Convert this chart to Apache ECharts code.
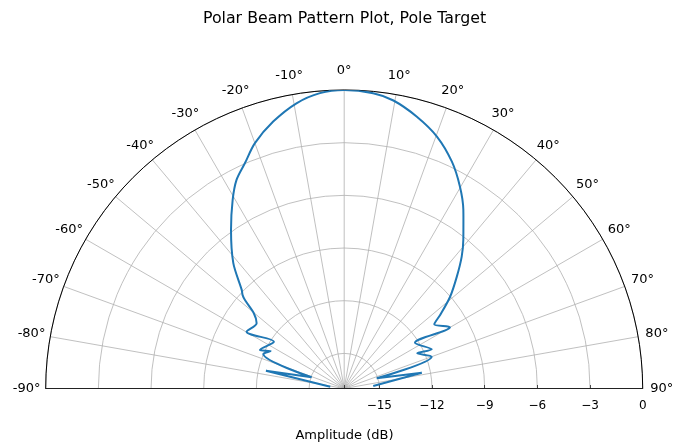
<!DOCTYPE html>
<html>
<head>
<meta charset="utf-8">
<script src="https://cdn.jsdelivr.net/npm/echarts@6/dist/echarts.min.js"></script>
<style>
html,body{margin:0;padding:0;background:#fff;}
#chart{width:689px;height:446px;}
</style>
</head>
<body>
<div id="chart"></div>
<script>
// Traced beam pattern, in drawing order (angle in degrees, amplitude in dB)
var thetaDeg = [
  -82.8, -77.2, -71.0, -66.9, -63.0, -65.4, -56.3, -59.8, -53.3, -50.2,
  -48.3, -47.4, -46.1, -41.5, -35.5, -30.6, -27.3, -23.8, -20.0, -14.9,
  -9.5, -4.7, 0.0, 5.6, 9.7, 14.9, 20.2, 25.4, 29.8, 33.7,
  35.3, 38.7, 41.7, 45.2, 49.1, 52.5, 54.5, 59.9, 57.1, 65.9,
  64.3, 70.0, 72.6, 78.5, 85.1
];
var amplitudeDb = [
  -16.2, -12.43, -15.04, -11.99, -12.3, -11.72, -12.19, -10.57, -10.78, -10.3,
  -9.43, -9.14, -8.9, -7.47, -5.9, -4.52, -3.63, -2.98, -2.13, -1.27,
  -0.53, -0.12, 0.0, -0.1, -0.36, -0.97, -1.71, -2.7, -3.74, -4.77,
  -5.25, -6.15, -6.94, -7.96, -9.02, -10.1, -10.7, -10.04, -12.2, -11.54,
  -12.38, -11.7, -15.06, -12.49, -15.34
];
var angleTickValues = [-90, -80, -70, -60, -50, -40, -30, -20, -10, 0, 10, 20, 30, 40, 50, 60, 70, 80, 90];
var radiusRange = [-17, 0, 3];       // min, max, step

var titleText = 'Polar Beam Pattern Plot, Pole Target';
var radiusName = 'Amplitude (dB)';

var data = thetaDeg.map(function (t, i) { return [amplitudeDb[i], t]; });

var chart = echarts.init(document.getElementById('chart'), null, {renderer: 'canvas'});
var FONT = 'DejaVu Sans';
var center = [344.2, 388.5];
var R = 298.5;
var angleMin = angleTickValues[0], angleMax = angleTickValues[angleTickValues.length - 1];
var angleStep = angleTickValues[1] - angleTickValues[0];

function radiusLabel(v) {
  if (v === radiusRange[0]) return '';
  return v < 0 ? '\u2212' + (-v) : String(v);
}

chart.setOption({
  animation: false,
  backgroundColor: '#fff',
  textStyle: {fontFamily: FONT},
  title: [
    {text: titleText, left: 'center', top: 6,
     textStyle: {fontSize: 15.8, fontWeight: 'normal', color: '#000', fontFamily: FONT}},
    {text: radiusName, left: 'center', top: 424,
     textStyle: {fontSize: 13, fontWeight: 'normal', color: '#000', fontFamily: FONT}}
  ],
  polar: [
    {center: center, radius: R},
    {center: center, radius: R}
  ],
  angleAxis: [
    {
      polarIndex: 0, type: 'value',
      min: angleMin, max: angleMax, interval: angleStep,
      startAngle: 180, endAngle: 0, clockwise: true,
      axisLine: {show: true, lineStyle: {color: '#000', width: 1}},
      axisTick: {show: false},
      axisLabel: {show: false},
      splitLine: {show: true, lineStyle: {color: '#b0b0b0', width: 0.8}}
    },
    {
      polarIndex: 1, type: 'value',
      min: angleMin, max: angleMax,
      startAngle: 0, endAngle: 180, clockwise: false, inverse: true,
      axisLine: {show: false}, axisTick: {show: false}, axisLabel: {show: false},
      splitLine: {show: false}
    }
  ],
  radiusAxis: [
    {
      polarIndex: 0, type: 'value',
      min: radiusRange[0], max: radiusRange[1],
      splitNumber: 5, minInterval: radiusRange[2], maxInterval: radiusRange[2],
      axisLine: {show: true, lineStyle: {color: '#222', width: 1}},
      axisTick: {show: false}, axisLabel: {show: false},
      splitLine: {show: true, lineStyle: {color: '#b0b0b0', width: 0.8}}
    },
    {
      polarIndex: 1, type: 'value',
      min: radiusRange[0], max: radiusRange[1],
      splitNumber: 5, minInterval: radiusRange[2], maxInterval: radiusRange[2],
      axisLine: {show: true, lineStyle: {color: '#222', width: 1}},
      axisTick: {show: true, inside: true, length: 3.5, lineStyle: {color: '#222', width: 0.8}},
      axisLabel: {show: true, margin: -11, verticalAlign: 'top', align: 'center',
                  fontSize: 12, color: '#000', fontFamily: FONT,
                  formatter: radiusLabel},
      splitLine: {show: false},
      z: 5
    }
  ],
  series: [{
    type: 'line', coordinateSystem: 'polar', polarIndex: 0,
    data: data, showSymbol: false, smooth: 0.3,
    lineStyle: {color: '#1f77b4', width: 2},
    z: 10
  }]
});

// Angle tick labels: centred a fixed distance outside the rim, positioned via the polar scale
var pad = 19;
var c0 = chart.convertToPixel({polarIndex: 0}, [radiusRange[0], 0]);
var labels = angleTickValues.map(function (a) {
  var p = chart.convertToPixel({polarIndex: 0}, [radiusRange[1], a]);
  var dx = p[0] - c0[0], dy = p[1] - c0[1];
  var len = Math.sqrt(dx * dx + dy * dy) || 1;
  return {
    type: 'text',
    x: p[0] + pad * dx / len,
    y: p[1] + pad * dy / len,
    style: {text: a + '\u00b0', fill: '#000', font: '13px "DejaVu Sans"',
            align: 'center', verticalAlign: 'middle'},
    z: 20
  };
});
chart.setOption({graphic: labels});
</script>
</body>
</html>
